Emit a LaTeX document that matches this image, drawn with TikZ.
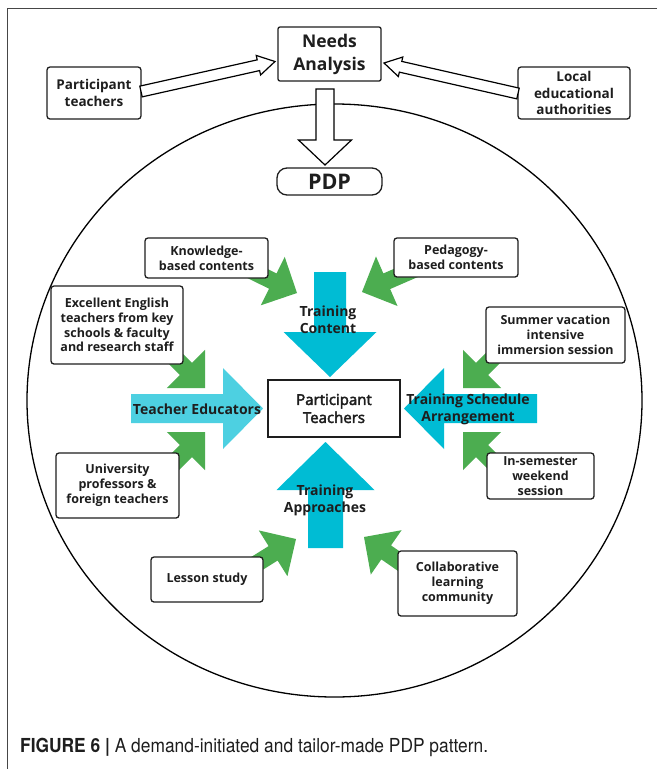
\documentclass[tikz,border=0pt]{standalone}
\usepackage{fontspec}
\setmainfont{Open Sans}
\newfontfamily\semib[FakeBold=2.8]{Open Sans}
\newfontfamily\capfont[FakeStretch=0.9]{TeX Gyre Heros}
\usetikzlibrary{calc}

\definecolor{cyanA}{RGB}{0,188,212}
\definecolor{cyanB}{RGB}{77,208,225}
\definecolor{grn}{RGB}{76,173,80}
\definecolor{ink}{RGB}{30,30,30}
\definecolor{framec}{RGB}{70,70,70}

% style, tail, tip, half shaft, half head, head length
\newcommand\fatarrow[6]{%
  \coordinate (fa-base) at ($(#3)!#6!(#2)$);
  \path[#1] ($(#2)!#4!90:(#3)$) -- ($(fa-base)!#4!-90:(#2)$) -- ($(fa-base)!#5!-90:(#2)$) -- (#3) -- ($(fa-base)!#5!90:(#2)$) -- ($(fa-base)!#4!90:(#2)$) -- ($(#2)!#4!-90:(#3)$) -- cycle;}

\tikzset{
  box/.style={draw=ink, line width=1.3pt, rounded corners=3pt, fill=white, align=center,
    font=\bfseries\fontsize{12.5}{14.8}\selectfont, text=ink, inner sep=0pt},
  topbox/.style={box, font=\bfseries\fontsize{13.5}{16.8}\selectfont},
  lbl/.style={align=center, inner sep=0pt, text=ink, font=\bfseries\fontsize{14}{17}\selectfont},
  hollow/.style={draw=black, fill=white, line width=1.2pt, line join=miter},
  greenarr/.style={fill=grn},
}

\begin{document}
\begin{tikzpicture}[x=1pt,y=-1pt]
\useasboundingbox (0,0) rectangle (657,769);
\fill[white] (0,0) rectangle (657,769);
% frame
\draw[framec, line width=1pt] (657,8) -- (7,8) -- (7,769);

% big circle
\draw[black, line width=1.3pt] (334.5,400.5) ellipse [x radius=307.5pt, y radius=296.5pt];

% top nodes
\node[box, rounded corners=2pt, minimum width=103pt, minimum height=54pt,
  font=\bfseries\fontsize{17.5}{23}\selectfont] (need) at (329.5,54) {Needs\\Analysis};
\node[topbox, minimum width=94pt, minimum height=52pt] (ptch) at (94,93) {Participant\\teachers};
\node[topbox, minimum width=112pt, minimum height=52pt, font=\bfseries\fontsize{13.5}{16.5}\selectfont] (local) at (574,93) {Local\\educational\\authorities};

% hollow arrows
\coordinate (h1A) at (141,91.5); \coordinate (h1B) at (275,61.5);
\coordinate (h2A) at (518,93.5); \coordinate (h2B) at (384,63);
\coordinate (h3A) at (325,89);   \coordinate (h3B) at (325,165);
\fatarrow{hollow}{h1A}{h1B}{5.5pt}{10pt}{17pt}
\fatarrow{hollow}{h2A}{h2B}{5.5pt}{10pt}{17pt}
\fatarrow{hollow}{h3A}{h3B}{9pt}{26.5pt}{25pt}

\node[box, rounded corners=10pt, minimum width=105pt, minimum height=27pt,
  font=\bfseries\fontsize{21.5}{24}\selectfont] (pdp) at (329.5,181.5) {PDP};

% cyan arrows
\coordinate (tcA) at (330,272);   \coordinate (tcB) at (330,377);
\coordinate (teA) at (131,408.5); \coordinate (teB) at (263,408.5);
\coordinate (tsA) at (537,408.5); \coordinate (tsB) at (404,408.5);
\coordinate (taA) at (325.5,548); \coordinate (taB) at (325.5,442);
\fatarrow{fill=cyanA}{tcA}{tcB}{16pt}{46.5pt}{45pt}
\fatarrow{fill=cyanB}{teA}{teB}{14.5pt}{40.5pt}{40pt}
\fatarrow{fill=cyanA}{tsA}{tsB}{14.5pt}{40.5pt}{40pt}
\fatarrow{fill=cyanA}{taA}{taB}{17.5pt}{49pt}{48pt}

% green arrows
\coordinate (g1A) at (230,260);     \coordinate (g1B) at (297,293);
\coordinate (g2A) at (431,262);     \coordinate (g2B) at (362,292);
\coordinate (g3A) at (155.5,338.5); \coordinate (g3B) at (205,388);
\coordinate (g4A) at (155.5,481.5); \coordinate (g4B) at (205,432);
\coordinate (g5A) at (512.5,338.5); \coordinate (g5B) at (463,388);
\coordinate (g6A) at (512.5,481.5); \coordinate (g6B) at (463,432);
\coordinate (g7A) at (232,579);     \coordinate (g7B) at (296,539);
\coordinate (g8A) at (426,580);     \coordinate (g8B) at (364,537);
\foreach \i in {1,...,8} {\fatarrow{greenarr}{g\i A}{g\i B}{8.5pt}{27pt}{27pt}}

% inner boxes
\node[box, minimum width=123pt, minimum height=40pt] (know) at (206.5,258) {Knowledge-\\based contents};
\node[box, minimum width=124pt, minimum height=39pt] (peda) at (456,257.5) {Pedagogy-\\based contents};
\node[box, minimum width=132pt, minimum height=78pt] (excl) at (117,325) {Excellent English\\teachers from key\\schools \& faculty\\and research staff};
\node[box, minimum width=123pt, minimum height=65pt] (univ) at (117.5,485.5) {University\\professors \&\\foreign teachers};
\node[box, minimum width=139pt, minimum height=56pt] (summ) at (555.5,335) {Summer vacation\\intensive\\immersion session};
\node[box, minimum width=107pt, minimum height=46pt] (inse) at (540.5,476) {In-semester\\weekend\\session};
\node[box, minimum width=112pt, minimum height=45pt] (less) at (207,579.5) {Lesson study};
\node[box, minimum width=119pt, minimum height=65pt] (coll) at (457.5,583.5) {Collaborative\\learning\\community};
\node[box, rounded corners=0pt, minimum width=132pt, minimum height=57pt,
  font=\semib\fontsize{15}{18}\selectfont] (ptc) at (334,408.5) {Participant\\Teachers};

% arrow labels
\node[lbl] (tcL) at (328,319.5) {Training\\Content};
\node[lbl] (teL) at (197,409) {Teacher Educators};
\node[lbl] (tsL) at (468,409) {Training Schedule\\Arrangement};
\node[lbl] (taL) at (325,500.5) {Training\\Approaches};

% caption
\node[anchor=base west, inner sep=0pt, text=ink, font=\capfont\fontsize{19.3}{22}\selectfont] (cap) at (20,752)
  {\textbf{FIGURE 6 |} A demand-initiated and tailor-made PDP pattern.};
\end{tikzpicture}
\end{document}
